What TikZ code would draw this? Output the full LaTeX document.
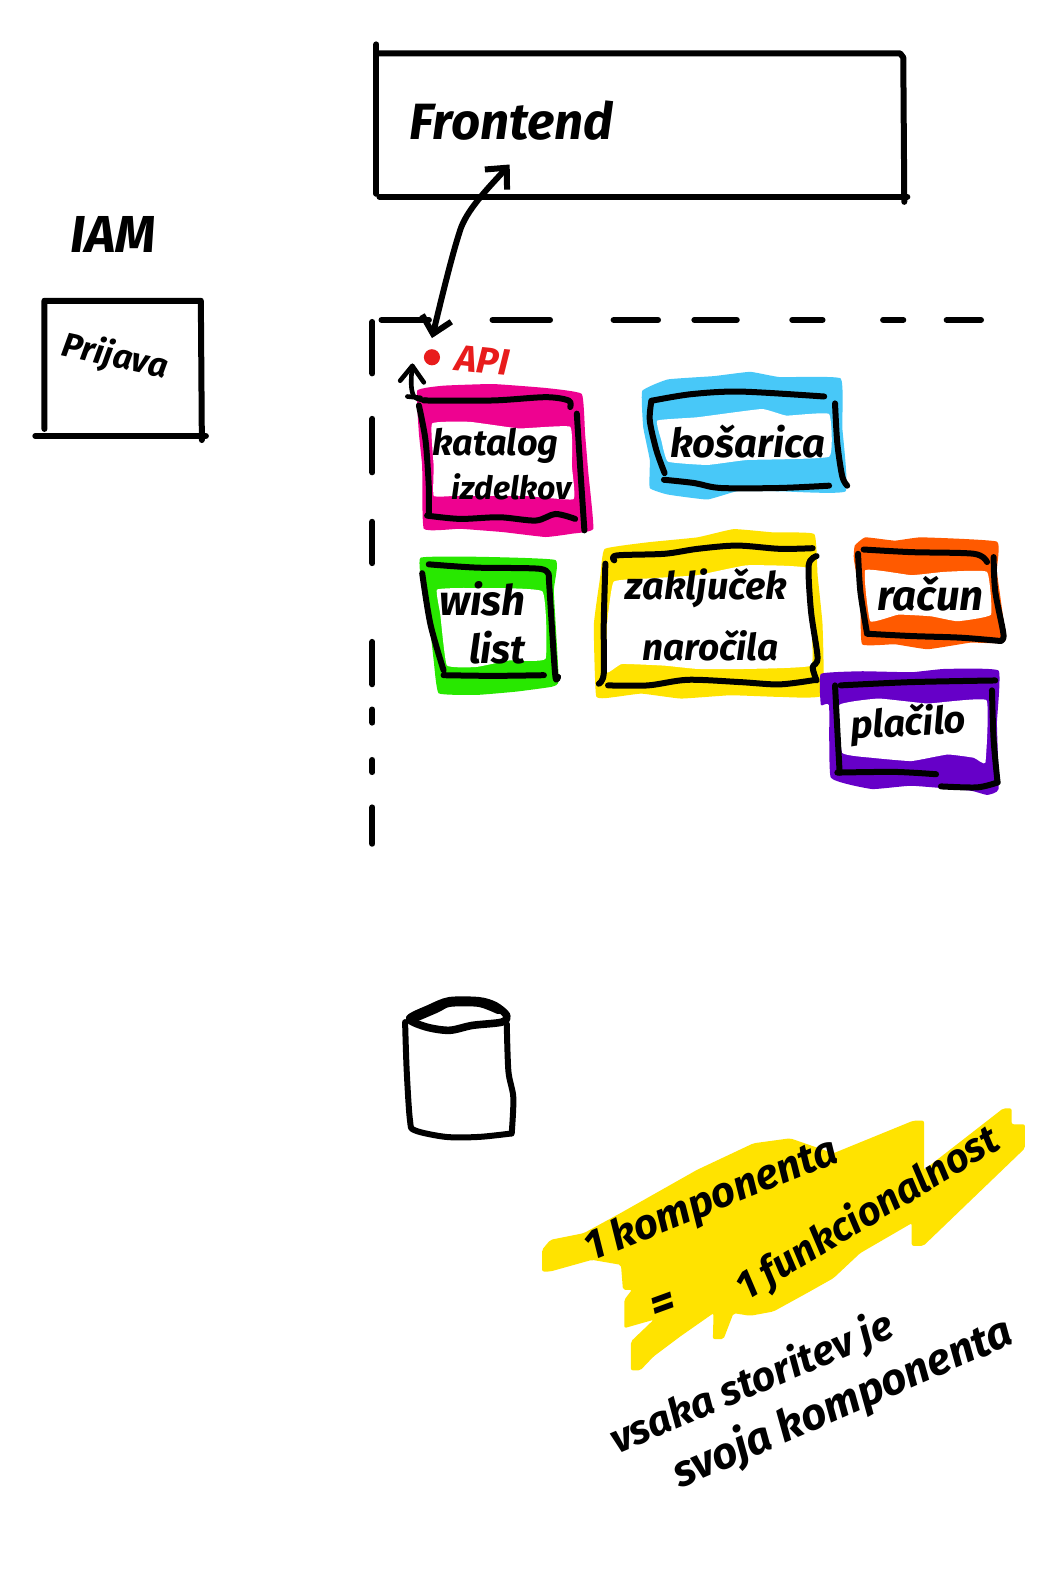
\documentclass[tikz,border=0pt]{standalone}
\usepackage{fontspec}
\setmainfont{Fira Sans}
\usetikzlibrary{arrows.meta}
\definecolor{cpink}{HTML}{EE0290}
\definecolor{cblue}{HTML}{48C8F8}
\definecolor{cgreen}{HTML}{28E800}
\definecolor{cyellow}{HTML}{FFE300}
\definecolor{corange}{HTML}{FF5A00}
\definecolor{cpurple}{HTML}{6600C8}
\definecolor{cred}{HTML}{E81C1C}
\newcommand{\hs}[1]{\fontsize{#1}{#1}\selectfont\itshape\bfseries}
\newcommand{\blob}[3]{%
  \fill[#1] plot[smooth cycle,tension=.2] coordinates {#2};
  \fill[white] plot[smooth cycle,tension=.2] coordinates {#3};}
\newcommand{\stroke}[1]{\draw[hand] plot[smooth,tension=.5] coordinates {#1};}
\tikzset{
  hand/.style={line width=3pt,line cap=round,line join=round,black},
  thinhand/.style={line width=2.3pt,line cap=round,line join=round,black},
  label/.style={inner sep=0pt,outer sep=0pt,black},
  barb/.style={{Straight Barb[length=8pt,width=15pt,line width=3pt]}-{Straight Barb[length=8pt,width=15pt,line width=3pt]}},
}
\begin{document}
\begin{tikzpicture}[x=0.5047pt,y=-0.5047pt]
\fill[white] (0,0) rectangle (1046.3,1568.5);
\useasboundingbox (0,0) rectangle (1046.3,1568.5);

% Frontend box
\draw[hand] (373,44) -- (373,192);
\draw[hand] (375,53) -- (892,53) -- (895,57) -- (896,200);
\draw[hand] (376,195) -- (899,195);
\node[label,font=\hs{25.5}] (frontend) at (507,120) {Frontend};

% IAM
\node[label,font=\hs{26}] (iam) at (112,232) {IAM};
\draw[hand] (44,425) -- (44,298) -- (199,298) -- (200,436);
\draw[hand] (35,432) -- (204,432);
\node[label,font=\hs{17},rotate=-12] (prijava) at (114,354) {Prijava};

% Dashed boundary
\foreach \a/\b in {378/425,488/545,608/652,688/730,785/815,875/895,938/972}
  \draw[hand] (\a,317) -- (\b,317);
\foreach \a/\b in {319/370,415/468,517/558,636/678,703/716,753/765,800/836}
  \draw[hand] (369,\a) -- (369,\b);

% API
\fill[cred] (428,354) circle (8);
\node[label,text=cred,font=\hs{18.5},rotate=-6] (api) at (478,357) {API};

% Frontend <-> API connector
\coordinate (feTip) at (505,163);
\coordinate (apiTip) at (428,335);
\draw[hand,barb] (apiTip) .. controls (440,285) and (450,245) .. (457,225) .. controls (465,205) and (485,185) .. (feTip);

% Zoom-frame A: katalog, wish list
\begin{scope}[shift={(358,299)},scale=.326]
\blob{cpink}{(170,270)(250,255)(400,250)(560,262)(670,280)(680,400)(690,520)(705,690)(640,705)(560,715)(430,700)(300,690)(190,690)(185,500)(175,400)}
{(215,370)(330,365)(480,385)(635,380)(640,500)(645,600)(500,590)(350,590)(285,590)(220,590)(220,500)}
\blob{cgreen}{(180,778)(350,775)(590,785)(585,880)(600,1150)(580,1170)(470,1185)(350,1195)(235,1190)(220,1090)(205,960)(185,870)}
{(230,875)(320,870)(550,880)(560,1085)(450,1090)(350,1110)(260,1105)(240,950)}
\stroke{(190,300)(400,300)(560,290)(630,300)(635,320)}
\stroke{(175,315)(195,420)(205,560)(205,650)}
\stroke{(655,340)(665,500)(678,695)}
\stroke{(200,650)(300,660)(420,655)(530,665)(590,645)(650,660)}
\stroke{(205,798)(350,808)(545,812)(570,838)}
\stroke{(185,825)(210,980)(250,1120)}
\stroke{(570,840)(580,1000)(590,1140)(598,1140)}
\stroke{(250,1135)(400,1137)(555,1135)}
% small arrow at katalog
\coordinate (catTip) at (155,195);
\coordinate (catEnd) at (195,298);
\draw[thinhand] (118,240) -- (catTip) -- (190,245);
\draw[thinhand] (catTip) .. controls (150,240) and (150,270) .. (160,288) .. controls (170,298) and (190,300) .. (catEnd);
\draw[thinhand] (140,288) -- (180,292);
\end{scope}

% Zoom-frame B: right-hand boxes
\begin{scope}[shift={(577,358)},scale=.326]
\blob{cblue}{(182,90)(260,55)(400,45)(510,32)(600,48)(785,52)(790,200)(800,395)(600,395)(470,395)(380,420)(260,405)(205,385)(205,300)(185,200)}
{(228,180)(350,170)(545,145)(620,165)(750,160)(750,290)(500,300)(380,315)(260,305)(240,240)}
\blob{cyellow}{(68,570)(200,550)(350,535)(460,510)(580,520)(705,525)(715,650)(730,800)(730,1015)(600,1020)(450,1015)(300,1025)(180,1010)(100,1020)(42,1018)(35,800)(55,650)}
{(95,670)(200,660)(350,650)(500,620)(690,630)(695,800)(695,925)(500,935)(350,935)(250,925)(120,920)(75,945)(75,800)}
\blob{corange}{(828,560)(860,535)(950,545)(1030,535)(1260,548)(1260,640)(1285,850)(1180,855)(1050,875)(950,860)(850,860)(845,720)(825,600)}
{(860,635)(1000,650)(1100,640)(1230,640)(1242,770)(1140,790)(1060,775)(960,770)(875,790)}
\blob{cpurple}{(725,950)(850,942)(1000,945)(1100,935)(1265,940)(1260,1100)(1265,1300)(1230,1318)(1180,1305)(1000,1290)(880,1300)(755,1265)(750,1045)(725,1045)}
{(780,1045)(900,1025)(1050,1040)(1228,1030)(1225,1220)(1190,1205)(1110,1195)(1000,1215)(880,1205)(790,1190)}
\stroke{(210,120)(330,100)(480,92)(735,107)}
\stroke{(210,120)(205,180)(225,270)(250,340)}
\stroke{(768,128)(775,250)(790,350)(805,378)}
\stroke{(248,360)(340,370)(420,385)(600,385)(750,378)}
\stroke{(97,605)(105,590)(250,585)(350,570)(470,560)(600,570)(700,568)}
\stroke{(70,615)(65,800)(65,950)(50,980)}
\stroke{(712,592)(688,620)(695,760)(715,900)(700,930)(712,970)}
\stroke{(78,985)(200,985)(320,968)(480,975)(600,982)(710,968)}
\stroke{(855,572)(1000,580)(1190,585)(1230,610)}
\stroke{(838,585)(845,700)(865,825)}
\stroke{(1250,595)(1255,700)(1280,830)(1270,850)}
\stroke{(865,828)(1000,835)(1150,840)(1270,850)}
\stroke{(785,985)(1000,975)(1255,970)}
\stroke{(768,985)(775,1120)(782,1250)}
\stroke{(1245,1000)(1250,1150)(1262,1280)}
\stroke{(775,1250)(950,1248)(1075,1255)}
\stroke{(1090,1292)(1200,1295)(1262,1280)}
\end{scope}

% Box labels
\node[label,font=\hs{18}] (katalog) at (491,442) {katalog};
\node[label,font=\hs{16}] (izdelkov) at (507,482) {izdelkov};
\node[label,font=\hs{20}] (kosarica) at (741,438) {košarica};
\node[label,font=\hs{21}] (wish) at (478,593) {wish};
\node[label,font=\hs{20}] (list) at (493,642) {list};
\node[label,font=\hs{19}] (zakljucek) at (700,583) {zaključek};
\node[label,font=\hs{18.5}] (narocila) at (704,640) {naročila};
\node[label,font=\hs{21}] (racun) at (922,588) {račun};
\node[label,font=\hs{19},rotate=3] (placilo) at (900,718) {plačilo};

% Cylinder
\begin{scope}[shift={(377,964)},scale=.325]
\draw[line width=3.8pt,line join=round,line cap=round] plot[smooth cycle,tension=.5] coordinates {(88,140)(150,108)(210,85)(300,85)(350,100)(385,130)(370,150)(280,160)(210,175)(140,165)};
\draw[line width=4.5pt,line cap=round] plot[smooth,tension=.5] coordinates {(100,138)(170,108)(210,90)(300,90)(360,112)};
\stroke{(75,150)(80,300)(90,450)(105,480)(200,500)(300,500)(395,490)}
\stroke{(385,155)(390,300)(405,380)(400,490)}
\end{scope}

% Yellow note highlight
\begin{scope}[shift={(515.6,1080)},xscale=.33,yscale=.33]
\fill[cyellow,rounded corners=1pt] (65,545) -- (65,480) -- (90,450) -- (190,430) -- (300,370) -- (530,240) -- (700,160) -- (810,145) -- (940,190) -- (1180,92) -- (1212,92) -- (1212,240) -- (1450,55) -- (1475,55) -- (1475,103) -- (1515,103) -- (1515,175) -- (1260,420) -- (1210,468) -- (1175,468) -- (1175,400) -- (1020,490) -- (940,565) -- (860,610) -- (760,665) -- (690,678) -- (640,670) -- (610,748) -- (578,748) -- (580,670) -- (480,740) -- (400,800) -- (360,842) -- (332,842) -- (332,755) -- (400,690) -- (312,715) -- (312,630) -- (335,600) -- (308,600) -- (302,525) -- (215,510) -- (90,545) -- cycle;
\end{scope}

% Note texts
\node[label,font=\hs{21},rotate=22] (komp) at (705,1190) {1 komponenta};
\node[label,font=\hs{24},rotate=20] (eq) at (658,1295) {=};
\node[label,font=\hs{20},rotate=31] (funk) at (860,1203) {1 funkcionalnost};
\node[label,font=\hs{20.5},rotate=23] (vsaka) at (745,1371) {vsaka storitev je};
\node[label,font=\hs{22},rotate=23.5] (svoja) at (835,1391) {svoja komponenta};
\end{tikzpicture}
\end{document}
